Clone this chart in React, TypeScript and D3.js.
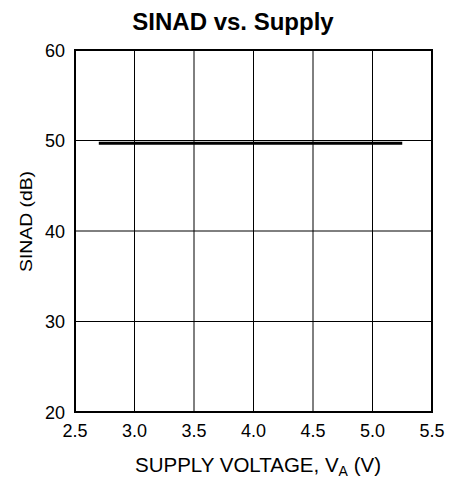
import React from "react";
import * as d3 from "d3";

const supplyV = [2.7, 3.0, 3.5, 4.0, 4.5, 5.0, 5.25];
const sinadDb = [49.7, 49.7, 49.7, 49.7, 49.7, 49.7, 49.7];
const xTicks = [2.5, 3.0, 3.5, 4.0, 4.5, 5.0, 5.5];
const yTicks = [20, 30, 40, 50, 60];

export default function App() {
  const W = 454, H = 477;
  const left = 75, right = 432, top = 50, bottom = 412;
  const x = d3.scaleLinear().domain([2.5, 5.5]).range([left, right]);
  const y = d3.scaleLinear().domain([20, 60]).range([bottom, top]);
  const line = d3.line<number>().x((_, i) => x(supplyV[i])).y((d) => y(d));
  const font = "Liberation Sans, Arial, sans-serif";
  return (
    <svg width={W} height={H} style={{ position: "absolute", left: 0, top: 0 }}>
      <rect width={W} height={H} fill="#fff" />
      <text x={233} y={29.5} textAnchor="middle" fontFamily={font} fontWeight="bold" fontSize={24}>SINAD vs. Supply</text>
      {xTicks.slice(1, -1).map((t) => (
        <line key={"gx" + t} x1={x(t)} x2={x(t)} y1={top} y2={bottom} stroke="#000" strokeWidth={1} />
      ))}
      {yTicks.slice(1, -1).map((t) => (
        <line key={"gy" + t} x1={left} x2={right} y1={y(t)} y2={y(t)} stroke="#000" strokeWidth={1} />
      ))}
      <rect x={left} y={top} width={right - left} height={bottom - top} fill="none" stroke="#000" strokeWidth={2} />
      <path d={line(sinadDb) ?? ""} fill="none" stroke="#000" strokeWidth={3} />
      {yTicks.map((t) => (
        <text key={"ty" + t} x={65} y={y(t) + 6.5} textAnchor="end" fontFamily={font} fontSize={18}>{t}</text>
      ))}
      {xTicks.map((t) => (
        <text key={"tx" + t} x={x(t)} y={437} textAnchor="middle" fontFamily={font} fontSize={18}>{t.toFixed(1)}</text>
      ))}
      <text x={258} y={471.5} textAnchor="middle" fontFamily={font} fontSize={20.5}>
        SUPPLY VOLTAGE, V<tspan fontSize={14} dy={4}>A</tspan><tspan dy={-4}> (V)</tspan>
      </text>
      <text transform={`translate(32,221.5) rotate(-90)`} textAnchor="middle" fontFamily={font} fontSize={16.5} textLength={101} lengthAdjust="spacingAndGlyphs">SINAD (dB)</text>
    </svg>
  );
}
